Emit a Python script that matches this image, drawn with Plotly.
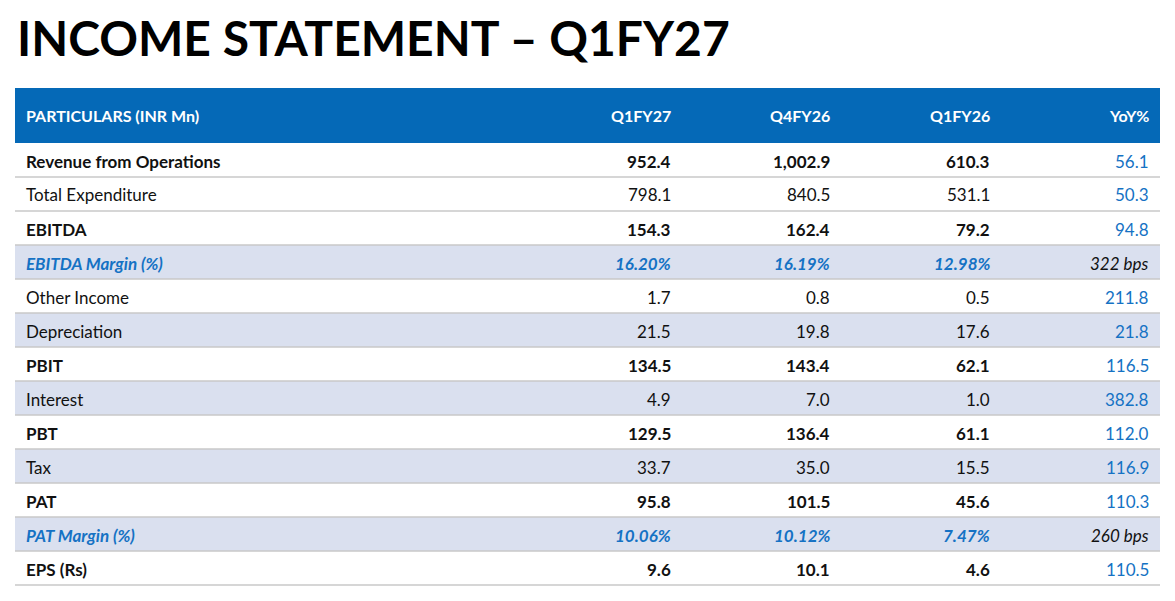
import plotly.graph_objects as go

W, H = 1175, 601
headers = ["PARTICULARS (INR Mn)", "Q1FY27", "Q4FY26", "Q1FY26", "YoY%"]
particulars = ["Revenue from Operations", "Total Expenditure", "EBITDA", "EBITDA Margin (%)",
               "Other Income", "Depreciation", "PBIT", "Interest", "PBT", "Tax", "PAT",
               "PAT Margin (%)", "EPS (Rs)"]
q1fy27 = ["952.4", "798.1", "154.3", "16.20%", "1.7", "21.5", "134.5", "4.9", "129.5", "33.7", "95.8", "10.06%", "9.6"]
q4fy26 = ["1,002.9", "840.5", "162.4", "16.19%", "0.8", "19.8", "143.4", "7.0", "136.4", "35.0", "101.5", "10.12%", "10.1"]
q1fy26 = ["610.3", "531.1", "79.2", "12.98%", "0.5", "17.6", "62.1", "1.0", "61.1", "15.5", "45.6", "7.47%", "4.6"]
yoy = ["56.1", "50.3", "94.8", "322 bps", "211.8", "21.8", "116.5", "382.8", "112.0", "116.9", "110.3", "260 bps", "110.5"]
bold_rows = {0, 2, 6, 8, 10, 12}
margin_rows = {3, 11}
band_rows = {3, 5, 7, 9, 11}

BLUE_HDR = "#0569b7"
BAND = "#dae0ef"
BLUE_TXT = "#1572c4"
FONT = "Lato"
FS = 17

n = len(particulars)
cols = [particulars, q1fy27, q4fy26, q1fy26, yoy]
OFF = 8  # page body margin
tx0, tx1 = 15 - OFF, 1160 - OFF
col_right = [None, 673 - OFF, 832 - OFF, 992 - OFF, 1151 - OFF]
left_x = 24 - OFF
top, hdr_h, row_h = 88 - OFF, 55, 34

px = lambda x: x / W
py = lambda y: 1 - y / H

shapes, ann = [], []
shapes.append(dict(type="rect", xref="paper", yref="paper", x0=px(tx0), x1=px(tx1),
                   y0=py(top + hdr_h), y1=py(top), fillcolor=BLUE_HDR, line_width=0, layer="below"))
for c, h in enumerate(headers):
    ann.append(dict(text=f"<b>{h}</b>", x=px(left_x if c == 0 else col_right[c]), y=py(top + hdr_h / 2),
                    xanchor="left" if c == 0 else "right", yanchor="middle",
                    font=dict(family=FONT, size=16, color="white")))
for i in range(n):
    yt = top + hdr_h + i * row_h
    if i in band_rows:
        shapes.append(dict(type="rect", xref="paper", yref="paper", x0=px(tx0), x1=px(tx1),
                           y0=py(yt + row_h), y1=py(yt), fillcolor=BAND, line_width=0, layer="below"))
    shapes.append(dict(type="line", xref="paper", yref="paper", x0=px(tx0), x1=px(tx1),
                       y0=py(yt + row_h), y1=py(yt + row_h), line=dict(color="#c8c8c8", width=1.5)))
    for c in range(5):
        v = cols[c][i]
        is_yoy = c == 4
        if i in margin_rows:
            txt = f"<i>{v}</i>" if is_yoy else f"<b><i>{v}</i></b>"
            color = "#111111" if is_yoy else BLUE_TXT
        else:
            txt = f"<b>{v}</b>" if (i in bold_rows and not is_yoy) else v
            color = BLUE_TXT if is_yoy else "#111111"
        ann.append(dict(text=txt, x=px(left_x if c == 0 else col_right[c]), y=py(yt + row_h / 2 + 1),
                        xanchor="left" if c == 0 else "right", yanchor="middle",
                        font=dict(family=FONT, size=FS, color=color)))

ann.append(dict(text="<b>INCOME STATEMENT – Q1FY27</b>", x=px(7), y=py(30),
                xanchor="left", yanchor="middle", font=dict(family=FONT, size=48, color="black")))
for a in ann:
    a.update(xref="paper", yref="paper", showarrow=False)

fig = go.Figure()
fig.update_layout(
    width=W, height=H, margin=dict(l=0, r=0, t=0, b=0),
    paper_bgcolor="white", plot_bgcolor="white", shapes=shapes, annotations=ann,
    xaxis=dict(visible=False), yaxis=dict(visible=False),
)
fig.write_html("out.html")
